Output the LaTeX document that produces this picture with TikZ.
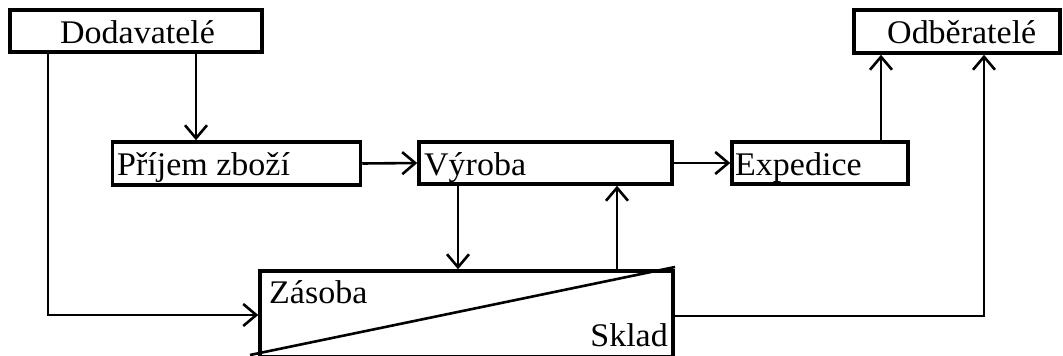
\documentclass[tikz,border=0pt]{standalone}
\usepackage{fontspec}
\setmainfont{Liberation Serif}[FakeStretch=1.03]
\usetikzlibrary{arrows.meta}
\begin{document}
\begin{tikzpicture}[x=1pt,y=-1pt,
  box/.style={draw,line width=3.5pt,inner sep=0pt,minimum width=#1},
  lbl/.style={inner sep=0pt,anchor=base west,font=\fontsize{33}{33}\selectfont},
  conn/.style={line width=2.6pt},
  arr/.style={conn,-{Straight Barb[length=13pt,width=22pt,line width=2.6pt]}}]
\useasboundingbox (0,0) rectangle (1063,356);
% boxes
\node[box=252,minimum height=42] (dod) at (136,31) {};
\node[box=206,minimum height=43] (odb) at (957,31.5) {};
\node[box=248,minimum height=43] (pri) at (236.5,163.5) {};
\node[box=253,minimum height=42] (vyr) at (545.5,163) {};
\node[box=176,minimum height=42] (exp) at (820,163) {};
\node[box=413,minimum height=86] (skl) at (466.5,314) {};
% labels
\node[lbl] (tdod) at (60,43) {Dodavatelé};
\node[lbl] (todb) at (887,43) {Odběratelé};
\node[lbl] (tpri) at (117,175) {Příjem zboží};
\node[lbl] (tvyr) at (424,175) {Výroba};
\node[lbl] (texp) at (735,175) {Expedice};
\node[lbl] (tzas) at (269,303) {Zásoba};
\node[lbl,anchor=base east] (tskl) at (668,346) {Sklad};
% diagonal in store
\coordinate (dg1) at (250,355);
\coordinate (dg2) at (675,267);
\draw[conn] (dg1) -- (dg2);
% connectors
\draw[arr] (196,0 |- dod.south) -- (196,0 |- pri.north);
\draw[arr] (48,0 |- dod.south) -- (48,315) -- (skl.west |- 0,315);
\draw[arr] (pri.east) -- (vyr.west);
\draw[arr] (vyr.east) -- (exp.west);
\draw[arr] (881,0 |- exp.north) -- (881,0 |- odb.south);
\draw[arr] (458,0 |- vyr.south) -- (458,0 |- skl.north);
\draw[arr] (617,0 |- skl.north) -- (617,0 |- vyr.south);
\draw[arr] (skl.east |- 0,316) -- (984,316) -- (984,0 |- odb.south);
\end{tikzpicture}
\end{document}
